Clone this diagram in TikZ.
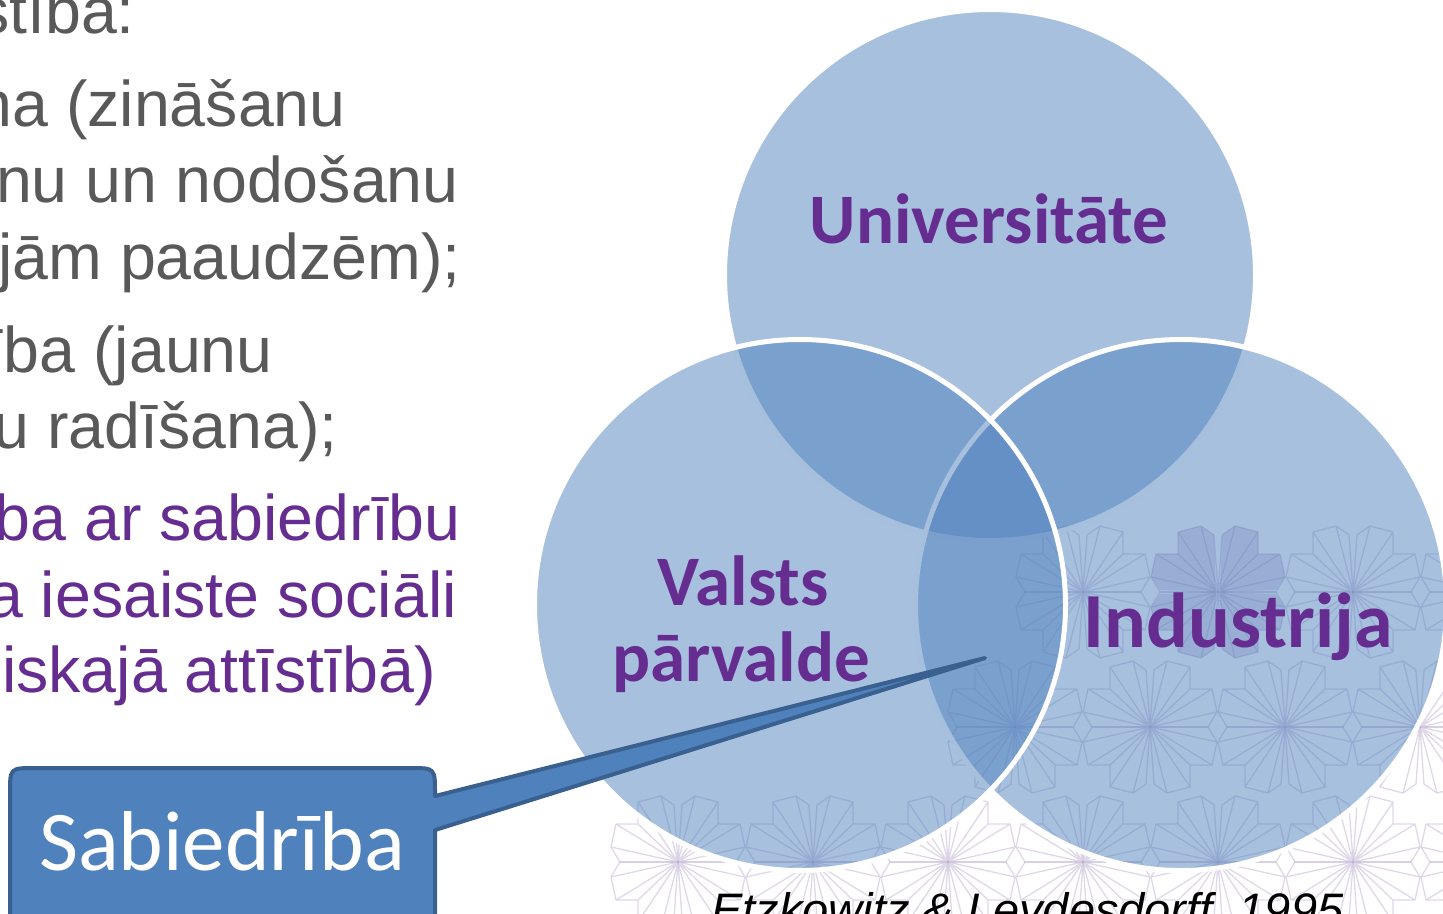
\documentclass[tikz,border=0pt]{standalone}
\usepackage{fontspec}
\setmainfont{Liberation Sans}
\newfontfamily\carlito{Carlito}
\definecolor{txtgray}{HTML}{595959}
\definecolor{purp}{HTML}{662D91}
\definecolor{vblue}{HTML}{4F81BD}
\definecolor{vdark}{HTML}{3A6090}
\definecolor{patcol}{HTML}{8064A2}
\tikzset{
  vcirc/.style={circle, inner sep=0pt, minimum size=531pt, fill=vblue, fill opacity=0.5, draw=white, draw opacity=1, line width=5pt},
  lt/.style={font=\fontsize{64.5}{64.5}\selectfont, text=txtgray, inner sep=0pt, anchor=base east},
  lp/.style={lt, text=purp},
  lbl/.style={font=\carlito\bfseries\fontsize{71}{71}\selectfont, text=purp, inner sep=0pt, anchor=base},
  patline/.style={draw=patcol, draw opacity=0.25, line width=1.3pt, line join=round},
  motif/.pic={
    \foreach \sx in {1,-1}{
      \foreach \sy in {1,-1}{
        \draw[patline, xscale=\sx, yscale=\sy]
          (0,0) -- (-4,-57) -- (-17,-66) -- (-40,-60) -- (-40,-38) -- (-62,-38) -- (-67,-15) -- (-58,0) -- cycle
          (0,0) -- (-17,-66) (0,0) -- (-40,-60) (0,0) -- (-40,-38) (0,0) -- (-62,-38) (0,0) -- (-67,-15);
      }
    }
  },
  motiffill/.pic={
    \foreach \sx in {1,-1}{
      \foreach \sy in {1,-1}{
        \fill[patcol, fill opacity=0.22, xscale=\sx, yscale=\sy]
          (-2,0) -- (-4,-57) -- (-17,-66) -- (-40,-60) -- (-40,-38) -- (-62,-38) -- (-67,-15) -- (-58,-2) -- cycle;
      }
    }
  }
}
\begin{document}
\begin{tikzpicture}[x=1pt,y=-1pt]
\useasboundingbox (0,0) rectangle (1443,913);
\clip (0,0) rectangle (1443,913);

% background ornament pattern
\pic at (1218,592) {motiffill};
\foreach \px in {1083,1218,1353,1488}{ \pic at (\px,592) {motif}; }
\foreach \px in {1015,1150,1285,1420}{ \pic at (\px,727) {motif}; }
\foreach \px in {678,813,948,1083,1218,1353,1488}{ \pic at (\px,862) {motif}; }

% circles
\node[vcirc] (uni) at (990,275) {};
\node[vcirc] (ind) at (1181,605) {};
\node[vcirc] (val) at (800,605) {};

% circle labels
\node[lbl] (luni) at (989,243) {Universitāte};
\node[lbl] (lval1) at (743,605) {Valsts};
\node[lbl] (lval2) at (741,681) {pārvalde};
\node[lbl, font=\carlito\bfseries\fontsize{78}{78}\selectfont] (lind) at (1238,647) {Industrija};

% left text
\node[lt] (t1) at (135,33) {stība:};
\node[lt] (t2) at (346,126) {na (zināšanu};
\node[lt] (t3) at (459,202) {nu un nodošanu};
\node[lt] (t4) at (461,279) {ajām paaudzēm);};
\node[lt] (t5) at (273,372) {ība (jaunu};
\node[lt] (t6) at (338,448) {u radīšana);};
\node[lp] (t7) at (461,540) {ība ar sabiedrību};
\node[lp] (t8) at (457,617) {a iesaiste sociāli};
\node[lp] (t9) at (436,692) {miskajā attīstībā)};

% citation
\node[font=\itshape\fontsize{47}{47}\selectfont, text=black, inner sep=0pt, anchor=base west] (cite) at (711,926) {Etzkowitz \& Leydesdorff, 1995};

% callout
\coordinate (tip) at (985,658);
\path[fill=vblue, draw=vdark, line width=4pt, line join=round]
  (10,960) -- (10,793) .. controls (10,768) .. (35,768) -- (410,768)
  .. controls (435,768) .. (435,793) -- (435,796) -- (tip) -- (435,830) -- (435,960) -- cycle;
\node[font=\carlito\fontsize{85}{85}\selectfont, text=white, inner sep=0pt, anchor=base] (sab) at (222,870) {Sabiedrība};
\end{tikzpicture}
\end{document}
